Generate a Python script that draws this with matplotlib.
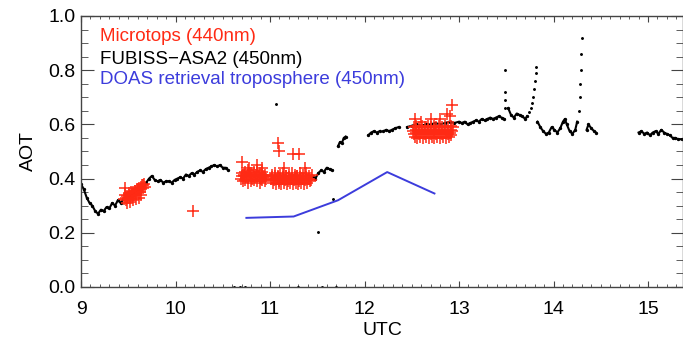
import numpy as np
import matplotlib
matplotlib.use('Agg')
import matplotlib.pyplot as plt
from matplotlib.ticker import MultipleLocator

plt.rcParams['font.family'] = ['Liberation Sans', 'DejaVu Sans']

nan = np.nan

# FUBISS-ASA2 (450nm), continuous parts (nan = gap)
fub_t = [9.00, 9.03, 9.06, 9.09, 9.12, 9.15, 9.18, 9.21, 9.24, 9.27, 9.30, 9.33, 9.36, 9.39,
         9.42, 9.45, 9.48, 9.51, 9.54, 9.57, 9.60, 9.63, 9.66, 9.69, 9.72, 9.75, 9.78, 9.81,
         9.84, 9.87, 9.90, 9.93, 9.96, 9.99, 10.02, 10.05, 10.08, 10.11, 10.14, 10.17, 10.20,
         10.23, 10.26, 10.29, 10.32, 10.35, 10.38, 10.41, 10.44, 10.47, 10.50, 10.53, 10.56, nan,
         11.42, 11.45, 11.48, 11.51, 11.54, 11.57, 11.60, 11.63, 11.66, nan,
         11.72, 11.74, 11.76, 11.78, 11.80, nan,
         12.04, 12.07, 12.10, 12.13, 12.16, nan,
         12.20, 12.23, 12.26, 12.29, 12.32, 12.36, nan,
         12.45, 12.50, 12.55, 12.60, 12.65, 12.70, 12.75, 12.80, 12.85, 12.90, 12.95, 13.00,
         13.03, 13.06, 13.09, 13.12, 13.15, 13.18, 13.21, 13.24, 13.27, 13.30, 13.33, 13.36,
         13.39, 13.42, 13.45, 13.48, nan,
         13.52, 13.55, 13.58, 13.61, 13.64, 13.67, 13.70, 13.72, nan,
         13.83, 13.86, 13.89, 13.92, 13.95, 13.98, 14.01, 14.04, 14.07, 14.10, 14.12, 14.14,
         14.17, 14.20, 14.23, 14.25, nan,
         14.35, 14.37, 14.40, 14.43, 14.45, nan,
         14.90, 14.93, 14.96, 14.99, 15.02, 15.05, 15.08, 15.11, 15.14, 15.17, 15.20, 15.23,
         15.26, 15.29, 15.32, 15.36]
fub_aot = [0.38, 0.36, 0.33, 0.31, 0.30, 0.28, 0.27, 0.285, 0.28, 0.295, 0.29, 0.31, 0.30, 0.32,
           0.31, 0.325, 0.33, 0.335, 0.34, 0.35, 0.355, 0.36, 0.37, 0.385, 0.40, 0.41, 0.395, 0.39,
           0.395, 0.385, 0.39, 0.39, 0.385, 0.395, 0.40, 0.405, 0.40, 0.415, 0.41, 0.42, 0.415,
           0.425, 0.43, 0.425, 0.435, 0.44, 0.445, 0.45, 0.445, 0.45, 0.44, 0.44, 0.43, nan,
           0.40, 0.41, 0.40, 0.42, 0.43, 0.425, 0.44, 0.435, 0.43, nan,
           0.52, 0.535, 0.53, 0.55, 0.555, nan,
           0.56, 0.57, 0.575, 0.57, 0.575, nan,
           0.575, 0.58, 0.575, 0.58, 0.585, 0.59, nan,
           0.59, 0.595, 0.60, 0.595, 0.60, 0.60, 0.605, 0.60, 0.605, 0.61, 0.605, 0.61,
           0.605, 0.61, 0.60, 0.605, 0.61, 0.615, 0.61, 0.62, 0.615, 0.62, 0.625, 0.62,
           0.625, 0.63, 0.625, 0.62, nan,
           0.66, 0.635, 0.625, 0.64, 0.635, 0.63, 0.62, 0.63, nan,
           0.61, 0.59, 0.575, 0.565, 0.57, 0.59, 0.58, 0.57, 0.585, 0.61, 0.62, 0.60,
           0.575, 0.565, 0.58, 0.61, nan,
           0.58, 0.60, 0.585, 0.575, 0.57, nan,
           0.57, 0.575, 0.565, 0.57, 0.56, 0.57, 0.575, 0.565, 0.58, 0.57, 0.565, 0.56,
           0.55, 0.55, 0.545, 0.545]

# FUBISS sparse dots (spikes and strays)
dot_t = [13.49, 13.49, 13.49, 13.49, 13.74, 13.76, 13.77, 13.78, 13.79, 13.80, 13.81, 13.815,
         14.27, 14.28, 14.285, 14.29, 14.295, 14.30, 11.06, 11.51, 11.67,
         10.62, 10.68, 10.74, 11.30, 11.55, 11.70]
dot_aot = [0.66, 0.69, 0.72, 0.80, 0.645, 0.66, 0.68, 0.70, 0.73, 0.76, 0.79, 0.81,
           0.65, 0.70, 0.75, 0.80, 0.86, 0.92, 0.674, 0.203, 0.324,
           0.0, 0.0, 0.0, 0.0, 0.0, 0.0]

# Microtops (440nm)
mic_t = [9.46, 9.48, 9.50, 9.52, 9.54, 9.56, 9.58, 9.60, 9.62, 9.64, 9.66, 9.68,
         9.47, 9.49, 9.51, 9.53, 9.55, 9.57, 9.59, 9.61, 9.63, 9.65, 9.67,
         9.49, 9.52, 9.55, 9.58, 9.61, 9.64, 9.47,
         9.48, 9.51, 9.54, 9.57, 9.60, 9.63, 9.66,
         10.69, 10.72, 10.75, 10.78, 10.81, 10.84, 10.87, 10.90, 10.93, 10.96,
         10.70, 10.74, 10.77, 10.80, 10.83, 10.86, 10.89, 10.92, 10.95,
         10.71, 10.74, 10.77, 10.80, 10.83, 10.86, 10.89, 10.92, 10.95,
         10.70, 10.73, 10.76, 10.79, 10.82, 10.85, 10.88, 10.91, 10.94,
         10.70, 10.78, 10.86, 10.92,
         11.01, 11.04, 11.07, 11.10, 11.13, 11.16, 11.19, 11.22, 11.25, 11.28, 11.31, 11.34,
         11.37, 11.40, 11.43,
         11.02, 11.05, 11.08, 11.11, 11.14, 11.17, 11.20, 11.23, 11.26, 11.29, 11.32, 11.35,
         11.38, 11.41, 11.44,
         11.03, 11.06, 11.09, 11.12, 11.15, 11.18, 11.21, 11.24, 11.27, 11.30, 11.33, 11.36,
         11.39, 11.42,
         11.02, 11.05, 11.08, 11.11, 11.14, 11.17, 11.20, 11.23, 11.26, 11.29, 11.32, 11.35,
         11.38, 11.41,
         11.08, 11.09, 11.24, 11.31, 11.15, 11.37, 10.18,
         12.51, 12.54, 12.57, 12.60, 12.63, 12.66, 12.69, 12.72, 12.75, 12.78, 12.81, 12.84,
         12.87, 12.90, 12.93,
         12.52, 12.55, 12.58, 12.61, 12.64, 12.67, 12.70, 12.73, 12.76, 12.79, 12.82, 12.85,
         12.88, 12.91, 12.94,
         12.53, 12.56, 12.59, 12.62, 12.65, 12.68, 12.71, 12.74, 12.77, 12.80, 12.83, 12.86,
         12.89, 12.92,
         12.52, 12.55, 12.58, 12.61, 12.64, 12.67, 12.70, 12.73, 12.76, 12.79, 12.82, 12.85,
         12.88, 12.91,
         12.53, 12.60, 12.70, 12.80, 12.87, 12.93, 12.90]
mic_aot = [0.325, 0.32, 0.33, 0.33, 0.335, 0.34, 0.345, 0.35, 0.35, 0.36, 0.365, 0.37,
           0.34, 0.335, 0.345, 0.35, 0.35, 0.355, 0.36, 0.365, 0.37, 0.375, 0.38,
           0.31, 0.315, 0.32, 0.325, 0.33, 0.34, 0.365,
           0.33, 0.34, 0.345, 0.355, 0.36, 0.365, 0.375,
           0.40, 0.41, 0.405, 0.41, 0.40, 0.405, 0.41, 0.40, 0.405, 0.40,
           0.42, 0.425, 0.43, 0.42, 0.425, 0.43, 0.42, 0.425, 0.415,
           0.39, 0.395, 0.385, 0.39, 0.395, 0.39, 0.385, 0.395, 0.39,
           0.41, 0.415, 0.41, 0.415, 0.41, 0.415, 0.41, 0.415, 0.41,
           0.46, 0.44, 0.45, 0.44,
           0.40, 0.395, 0.40, 0.39, 0.40, 0.395, 0.39, 0.40, 0.395, 0.40, 0.39, 0.40,
           0.395, 0.40, 0.395,
           0.415, 0.42, 0.41, 0.415, 0.42, 0.41, 0.415, 0.42, 0.415, 0.41, 0.42, 0.415,
           0.42, 0.41, 0.415,
           0.385, 0.38, 0.385, 0.38, 0.385, 0.38, 0.385, 0.38, 0.385, 0.38, 0.385, 0.38,
           0.385, 0.39,
           0.405, 0.41, 0.405, 0.40, 0.405, 0.41, 0.405, 0.40, 0.405, 0.41, 0.405, 0.40,
           0.405, 0.40,
           0.53, 0.50, 0.49, 0.49, 0.44, 0.44, 0.28,
           0.575, 0.57, 0.575, 0.57, 0.575, 0.57, 0.575, 0.57, 0.575, 0.57, 0.575, 0.57,
           0.575, 0.57, 0.575,
           0.59, 0.595, 0.59, 0.595, 0.59, 0.595, 0.59, 0.595, 0.59, 0.595, 0.59, 0.595,
           0.59, 0.595, 0.59,
           0.555, 0.55, 0.555, 0.55, 0.555, 0.55, 0.555, 0.55, 0.555, 0.55, 0.555, 0.55,
           0.555, 0.56,
           0.565, 0.58, 0.565, 0.58, 0.565, 0.58, 0.565, 0.58, 0.565, 0.58, 0.565, 0.58,
           0.565, 0.58,
           0.62, 0.61, 0.62, 0.62, 0.64, 0.67, 0.63]

# DOAS retrieval troposphere (450nm)
doas_t = [10.75, 11.25, 11.72, 12.24, 12.74]
doas_aot = [0.255, 0.26, 0.32, 0.424, 0.345]

red = '#ff2a14'
blue = '#3c3cdc'

fig = plt.figure(figsize=(6.83, 3.38), dpi=100)
ax = fig.add_axes([0.1186, 0.151, 0.8814, 0.8017])

ax.plot(fub_t, fub_aot, color='black', lw=1.5, marker='.', ms=2.8, zorder=2)
ax.plot(dot_t, dot_aot, ls='none', color='black', marker='.', ms=2.2, zorder=2)
ax.plot(mic_t, mic_aot, ls='none', color=red, marker='+', ms=9, mew=1.1, zorder=3)
ax.plot(doas_t, doas_aot, color=blue, lw=1.4, zorder=4)

ax.set_xlim(9, 15.37)
ax.set_ylim(0, 1.0)
ax.xaxis.set_major_locator(MultipleLocator(1))
ax.xaxis.set_minor_locator(MultipleLocator(0.1))
ax.yaxis.set_major_locator(MultipleLocator(0.2))
ax.yaxis.set_minor_locator(MultipleLocator(0.05))
ax.yaxis.set_major_formatter(plt.FormatStrFormatter('%.1f'))

ax.tick_params(axis='both', which='both', direction='in', top=True, right=True,
               colors='#444444', labelcolor='black', labelsize=14)
ax.tick_params(axis='x', which='major', length=4, pad=10)
ax.tick_params(axis='x', which='minor', length=2.2)
ax.tick_params(axis='y', which='major', length=9, pad=4)
ax.tick_params(axis='y', which='minor', length=4.7)
for s in ax.spines.values():
    s.set_color('#444444')
    s.set_linewidth(1)

ax.set_xlabel('UTC', fontsize=14, labelpad=3)
ax.set_ylabel('AOT', fontsize=14, labelpad=8)

ax.text(0.0316, 0.926, 'Microtops (440nm)', color=red, fontsize=13.5,
        transform=ax.transAxes, va='center')
ax.text(0.0316, 0.841, 'FUBISS\u2212ASA2 (450nm)', color='black', fontsize=13.5,
        transform=ax.transAxes, va='center')
ax.text(0.0316, 0.764, 'DOAS retrieval troposphere (450nm)', color=blue, fontsize=13.5,
        transform=ax.transAxes, va='center')

fig.savefig('out.png', dpi=100)
